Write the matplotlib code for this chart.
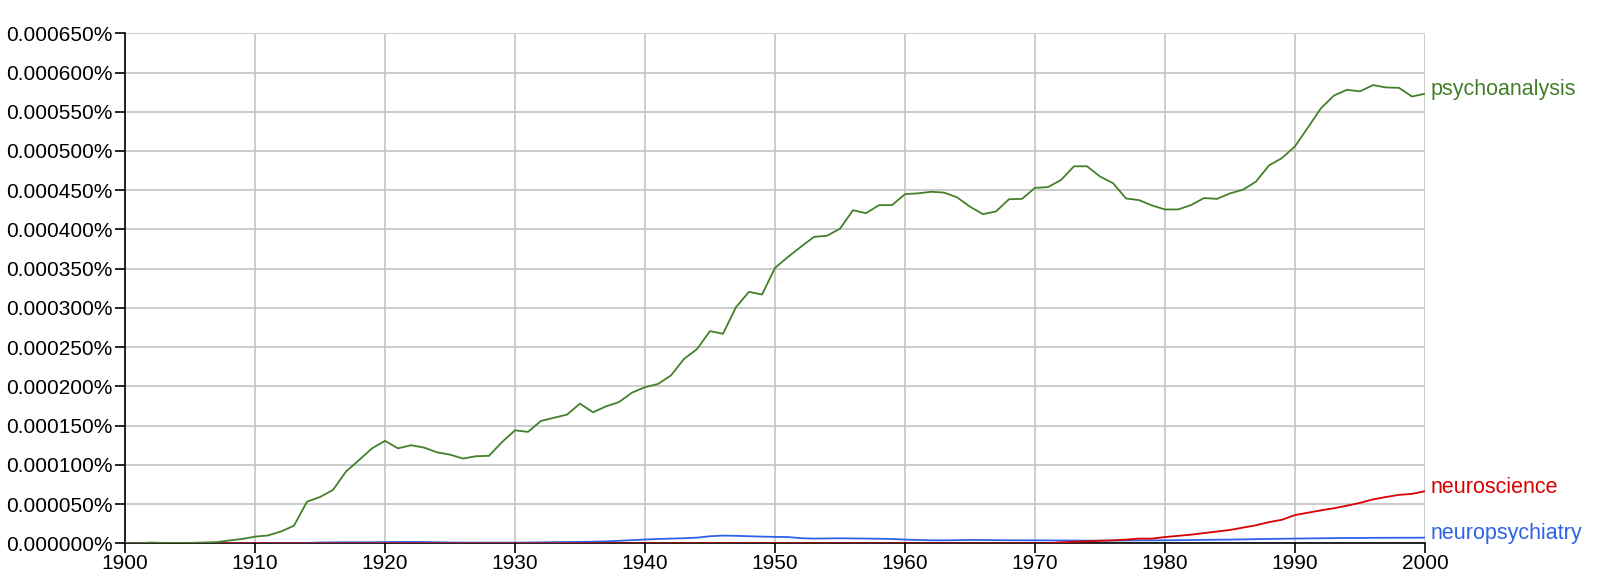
import matplotlib
matplotlib.use("Agg")
import matplotlib.pyplot as plt
from matplotlib.ticker import FuncFormatter, MultipleLocator

years = list(range(1900, 2001))

# values in units of 1e-6 percent
psychoanalysis = [
    0, 0, 1, 0.5, 0.5, 0.5, 1, 1.5, 3.5, 5.5,
    8.5, 10, 15, 22.5, 53, 59, 68, 91.5, 106, 121,
    130.6, 121, 125, 122, 116, 113, 108, 111, 111.5, 129,
    144, 142, 156, 160, 164, 178, 167, 174.5, 180, 192,
    199, 203, 214, 235, 247.5, 270.5, 267, 301, 320.5, 317,
    351, 365, 378, 390.5, 392, 401, 424.5, 420.7, 431, 431,
    445, 446, 448, 447, 441, 429, 419.5, 423, 438.5, 439,
    453, 454, 463, 480.5, 480.5, 467.5, 459, 439.5, 437.4, 430.6,
    425.5, 425.5, 431, 440, 439, 446, 450.6, 461, 481.6, 491,
    506, 530, 554.6, 570.7, 578, 576, 584, 581, 580.5, 569.4,
    573,
]
neuroscience = [0] * 72 + [
    1.3, 2, 2.5, 3.2, 3.8, 4.7, 6, 6,
    8, 9.5, 11, 13, 15, 17, 20, 23, 27, 30,
    36, 39, 42, 44.7, 48, 51.5, 56, 59, 61.7, 63,
    66.4,
]
neuropsychiatry = [0] * 14 + [
    0.5, 1, 1.2, 1.3, 1.3, 1.3,
    1.5, 1.7, 1.7, 1.6, 1.3, 1.0, 0.9, 0.8, 0.8, 0.8,
    0.8, 1.0, 1.2, 1.4, 1.6, 1.8, 2.0, 2.5, 3.2, 4.0,
    4.8, 5.5, 6.0, 6.4, 7.2, 9.0, 9.8, 9.5, 9.0, 8.5,
    8.2, 8.0, 6.5, 6.0, 6.2, 6.4, 6.2, 6.0, 5.8, 5.5,
    4.7, 4.3, 3.8, 3.8, 4.0, 4.3, 4.2, 4.0, 3.9, 3.8,
    3.8, 3.7, 3.6, 3.5, 3.4, 3.4, 3.5, 3.6, 3.7, 3.8,
    3.8, 4.0, 4.2, 4.4, 4.6, 4.7, 5.0, 5.3, 5.6, 5.8,
    6.0, 6.2, 6.4, 6.6, 6.8, 6.8, 7.0, 7.0, 7.1, 7.1,
    7.2,
]

series = [
    ("psychoanalysis", psychoanalysis, "#44802a"),
    ("neuroscience", neuroscience, "#d90000"),
    ("neuropsychiatry", neuropsychiatry, "#2f62e8"),
]

plt.rcParams['font.family'] = ['Liberation Sans', 'DejaVu Sans']

fig = plt.figure(figsize=(16, 5.83), dpi=100)
ax = fig.add_axes([125/1600, 39.7/583, 1300/1600, 510/583])

for name, vals, col in series[::-1]:
    ax.plot(years, [v * 1e-6 for v in vals], color=col, lw=1.3, zorder=3)

for name, vals, col in series:
    ax.annotate(name, xy=(years[-1], vals[-1] * 1e-6), xytext=(4, 3),
                textcoords='offset points', va='center', ha='left',
                color=col, fontsize=15.5, annotation_clip=False)

ax.set_xlim(1900, 2000)
ax.set_ylim(0, 650e-6)
ax.xaxis.set_major_locator(MultipleLocator(10))
ax.yaxis.set_major_locator(MultipleLocator(50e-6))
ax.yaxis.set_major_formatter(FuncFormatter(lambda v, p: f"{v:.6f}%"))
ax.grid(True, color='#c8c8c8', lw=1.3, zorder=0)
for s in ['top', 'right']:
    ax.spines[s].set_visible(False)
for s in ['left', 'bottom']:
    ax.spines[s].set_color('black')
    ax.spines[s].set_linewidth(1.2)
ax.tick_params(axis='both', labelsize=15, color='black', width=1.2, length=7, pad=2)
ax.tick_params(axis='x', pad=1)

fig.savefig("out.png", dpi=100, facecolor='white')
